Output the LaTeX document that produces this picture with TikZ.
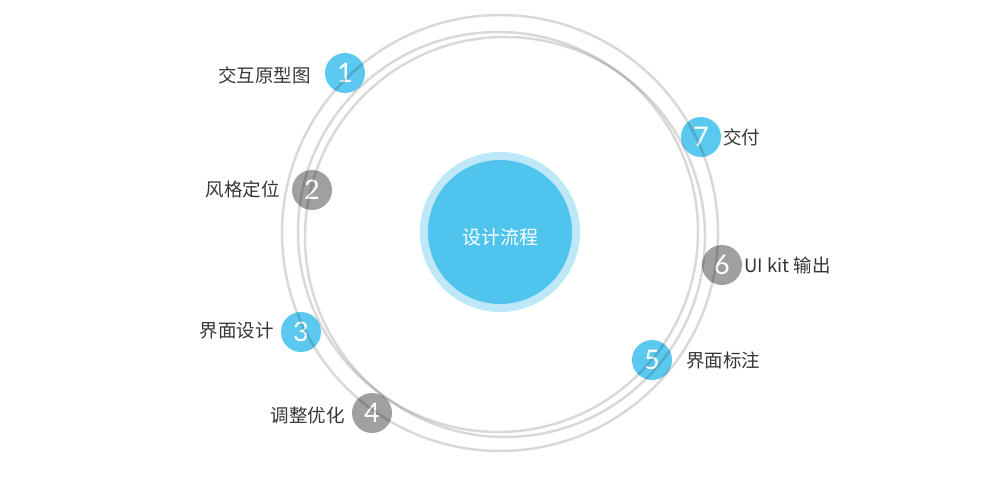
\documentclass[tikz,border=0pt]{standalone}
\usepackage{fontspec}
\setmainfont{Lato}
\newfontfamily\cjk{Noto Sans CJK SC}
\definecolor{bblue}{HTML}{5BC9EF}
\definecolor{cblue}{HTML}{4FC4ED}
\definecolor{lblue}{HTML}{BEE8F7}
\definecolor{bgray}{HTML}{A0A0A0}
\definecolor{txt}{HTML}{363636}
\tikzset{
  badge/.style={circle, minimum size=40pt, inner sep=0pt, text=white, font=\fontsize{27}{27}\selectfont},
  bluebadge/.style={badge, fill=bblue},
  graybadge/.style={badge, fill=bgray},
  lab/.style={text=txt, font=\cjk\fontsize{18.5}{18.5}\selectfont, inner sep=0pt},
  ring/.style={draw=black, draw opacity=0.15, line width=2.5pt}
}
\begin{document}
\begin{tikzpicture}[x=1pt,y=-1pt]
\useasboundingbox (0,0) rectangle (1000,500);
\fill[white] (0,0) rectangle (1000,500);
% centre
\node[circle, fill=lblue, minimum size=160pt, inner sep=0pt] (halo) at (500,232) {};
\node[circle, fill=cblue, minimum size=144pt, inner sep=0pt] (core) at (500,232) {};
\node[text=white, font=\cjk\fontsize{19}{19}\selectfont, inner sep=0pt] (title) at (500,237) {设计流程};
% badges
\node[bluebadge] (b1) at (345,73) {1};
\node[graybadge] (b2) at (312,190) {2};
\node[bluebadge] (b3) at (301,332) {3};
\node[graybadge] (b4) at (372,413) {4};
\node[bluebadge] (b5) at (652,360) {5};
\node[graybadge] (b6) at (722,265) {6};
\node[bluebadge] (b7) at (701,137) {7};
% rings
\draw[ring] (500,233) circle[radius=218];
\draw[ring] (498,232) circle[radius=200];
\draw[ring] (505,237) circle[radius=200];
% labels
\node[lab, anchor=east] (l1) at (311,75) {交互原型图};
\node[lab, anchor=east] (l2) at (280,189) {风格定位};
\node[lab, anchor=east] (l3) at (274,331) {界面设计};
\node[lab, anchor=east] (l4) at (345,415) {调整优化};
\node[lab, anchor=west] (l5) at (686,360) {界面标注};
\node[lab, anchor=west] (l6) at (744,265) {UI kit 输出};
\node[lab, anchor=west] (l7) at (723,137) {交付};
\end{tikzpicture}
\end{document}
